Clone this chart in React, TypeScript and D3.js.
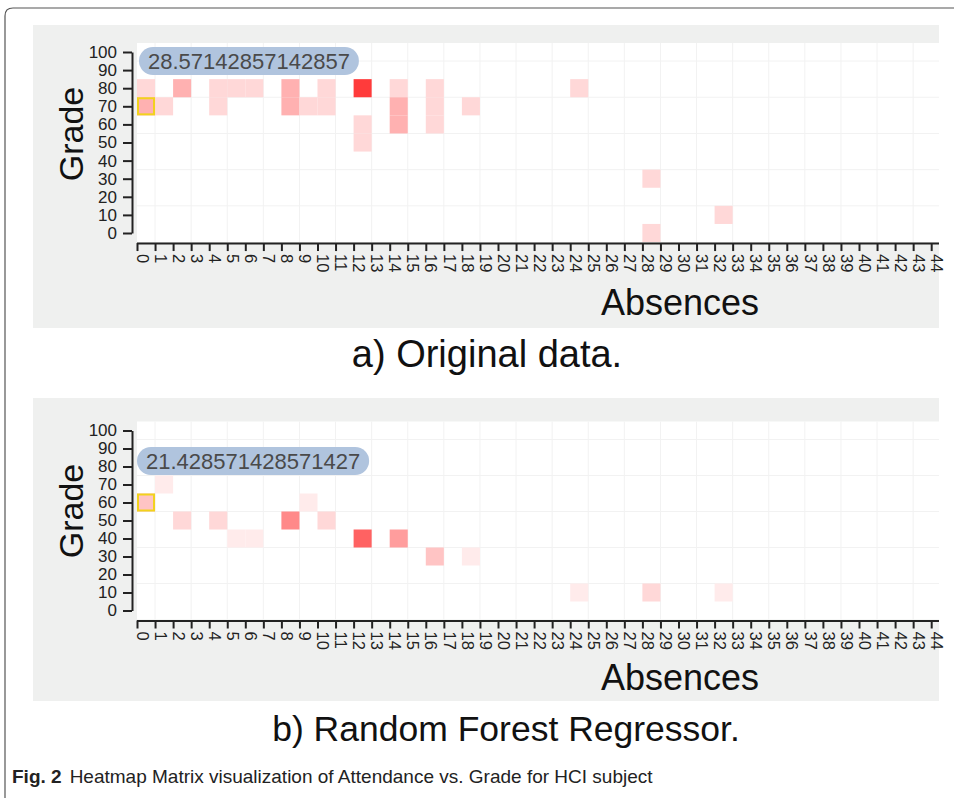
import React, { useEffect, useRef } from 'react';
import * as d3 from 'd3';

// x categories (absences) and y categories (grade)
const absenceTicks = [0, 1, 2, 3, 4, 5, 6, 7, 8, 9, 10, 11, 12, 13, 14, 15, 16, 17, 18, 19, 20, 21, 22,
    23, 24, 25, 26, 27, 28, 29, 30, 31, 32, 33, 34, 35, 36, 37, 38, 39, 40, 41, 42, 43, 44];
const gradeTicks = [0, 10, 20, 30, 40, 50, 60, 70, 80, 90, 100];

// a) original data: one entry per coloured cell
const originalAbsence = [0, 0, 1, 2, 4, 4, 5, 6, 8, 8, 9, 10, 10, 12, 12, 12, 14, 14, 14, 16, 16, 16, 18, 24, 28, 28, 32];
const originalGrade = [80, 70, 70, 80, 80, 70, 80, 80, 80, 70, 70, 80, 70, 80, 60, 50, 80, 70, 60, 80, 70, 60, 70, 80, 30, 0, 10];
const originalCount = [1, 2, 1, 2, 1, 1, 1, 1, 2, 2, 1, 1, 1, 5, 1, 1, 1, 2, 2, 1, 1, 1, 1, 1, 1, 1, 1];
const originalHover = { absence: 0, grade: 70, text: '28.57142857142857' };

// b) random forest regressor
const predictedAbsence = [1, 0, 9, 2, 4, 8, 10, 5, 6, 12, 14, 16, 18, 24, 28, 32];
const predictedGrade = [70, 60, 60, 50, 50, 50, 50, 40, 40, 40, 40, 30, 30, 10, 10, 10];
const predictedCount = [1, 3, 1, 2, 2, 6, 2, 1, 1, 8, 5, 3, 1, 1, 2, 1];
const predictedHover = { absence: 0, grade: 60, text: '21.428571428571427' };

const panels = [
    {
        absence: originalAbsence, grade: originalGrade, count: originalCount, hover: originalHover,
        colorMax: 6.5, title: 'a) Original data.', titleSize: 38,
        grayTop: 25, yTop: 52, yBottom: 233, gradeY: 134, absY: 315, titleX: 487, titleY: 367,
        tip: { x: 139, y: 47, h: 28 }
    },
    {
        absence: predictedAbsence, grade: predictedGrade, count: predictedCount, hover: predictedHover,
        colorMax: 13, title: 'b) Random Forest Regressor.', titleSize: 35.5,
        grayTop: 398, yTop: 430.5, yBottom: 610.5, gradeY: 511, absY: 690, titleX: 506, titleY: 741,
        tip: { x: 137, y: 447, h: 28 }
    }
];

const W = 954;
const H = 798;
const CLIP_X = 939;
const FONT = '"Liberation Sans", Arial, sans-serif';

const App = () => {
    const svgRef = useRef<SVGSVGElement>(null);

    useEffect(() => {
        const svg = d3.select(svgRef.current);
        svg.selectAll('*').remove();

        // figure frame
        svg.append('path')
            .attr('d', `M5,${H} V16 Q5,8 13,8 H${W}`)
            .attr('fill', 'none')
            .attr('stroke', '#555')
            .attr('stroke-width', 1.2);

        const defs = svg.append('defs');
        defs.append('clipPath').attr('id', 'clip')
            .append('rect').attr('x', 0).attr('y', 0).attr('width', CLIP_X).attr('height', H);

        const step = 18.05;
        const x = d3.scaleLinear()
            .domain([0, absenceTicks.length])
            .range([137, 137 + absenceTicks.length * step]);

        panels.forEach((p, pi) => {
            // grey panel background
            svg.append('rect')
                .attr('x', 33).attr('y', p.grayTop)
                .attr('width', CLIP_X - 33).attr('height', 303)
                .attr('fill', '#eff0ef');

            const g = svg.append('g').attr('clip-path', 'url(#clip)');

            const y = d3.scaleLinear().domain([0, 100]).range([p.yBottom, p.yTop]);
            const ch = (p.yBottom - p.yTop) / 10;

            const color = d3.scaleLinear<string>()
                .domain([0, p.colorMax])
                .range(['#ffffff', '#ff0000']);

            // white plot background
            g.append('rect')
                .attr('x', x(0))
                .attr('y', y(100) - ch / 2)
                .attr('width', x(absenceTicks.length) - x(0))
                .attr('height', ch * 11)
                .attr('fill', '#ffffff');

            // faint grid
            g.selectAll('.vgrid')
                .data(absenceTicks.filter(d => d % 2 === 1))
                .enter()
                .append('line')
                .attr('x1', d => x(d)).attr('x2', d => x(d))
                .attr('y1', y(100) - ch / 2).attr('y2', y(0) + ch / 2)
                .style('stroke', '#f2f2f2');
            g.selectAll('.hgrid')
                .data(gradeTicks.filter(d => d % 20 === 0 && d > 0))
                .enter()
                .append('line')
                .attr('x1', x(0)).attr('x2', x(absenceTicks.length))
                .attr('y1', d => y(d) + ch / 2).attr('y2', d => y(d) + ch / 2)
                .style('stroke', '#f2f2f2');

            // cells
            const cells = p.absence.map((a, i) => ({ a, gr: p.grade[i], c: p.count[i] }));
            g.selectAll('.cell')
                .data(cells)
                .enter()
                .append('rect')
                .attr('x', d => x(d.a))
                .attr('y', d => y(d.gr) - ch / 2)
                .attr('width', step)
                .attr('height', ch)
                .style('fill', d => color(d.c));

            // hovered cell outline
            g.append('rect')
                .attr('x', x(p.hover.absence) + 1)
                .attr('y', y(p.hover.grade) - ch / 2 + 1)
                .attr('width', step - 2)
                .attr('height', ch - 2)
                .attr('fill', 'none')
                .attr('stroke', '#f2d21c')
                .attr('stroke-width', 2);

            // y axis
            const yAxis = svg.append('g')
                .attr('transform', 'translate(132,0)')
                .call(d3.axisLeft(y).tickValues(gradeTicks).tickSize(9).tickPadding(6).tickSizeOuter(0));
            yAxis.selectAll('text')
                .style('font-family', FONT)
                .style('font-size', '17px')
                .style('fill', '#222');
            yAxis.selectAll('line, path').style('stroke', '#222').style('stroke-width', 2);

            // x axis (domain line drawn by hand so it stops at the panel edge)
            const xAxisY = p.yBottom + ch / 2 + 1;
            const xAxis = svg.append('g')
                .attr('transform', `translate(0,${xAxisY})`)
                .call(d3.axisBottom(x).tickValues(absenceTicks).tickFormat(d3.format('d')).tickSize(8).tickSizeOuter(0));
            xAxis.select('.domain').remove();
            xAxis.append('line')
                .attr('x1', x(0)).attr('x2', CLIP_X)
                .attr('y1', 0.5).attr('y2', 0.5);
            xAxis.selectAll('text')
                .attr('transform', 'rotate(90)')
                .attr('x', 11)
                .attr('y', 0)
                .attr('dy', '0.05em')
                .style('text-anchor', 'start')
                .style('font-family', FONT)
                .style('font-size', '16.5px')
                .style('fill', '#222');
            xAxis.selectAll('line').style('stroke', '#222').style('stroke-width', 2);

            // axis titles
            svg.append('text')
                .attr('transform', `translate(83,${p.gradeY}) rotate(-90)`)
                .attr('text-anchor', 'middle')
                .style('font-family', FONT)
                .style('font-size', '34px')
                .style('fill', '#111')
                .text('Grade');
            svg.append('text')
                .attr('x', 680).attr('y', p.absY)
                .attr('text-anchor', 'middle')
                .style('font-family', FONT)
                .style('font-size', '36px')
                .style('fill', '#111')
                .text('Absences');

            // panel title
            svg.append('text')
                .attr('x', p.titleX).attr('y', p.titleY)
                .attr('text-anchor', 'middle')
                .style('font-family', FONT)
                .style('font-size', p.titleSize + 'px')
                .style('fill', '#111')
                .text(p.title);

            // tooltip pill
            const tip = svg.append('g').attr('class', 'tip' + pi);
            const pill = tip.append('rect')
                .attr('x', p.tip.x).attr('y', p.tip.y)
                .attr('height', p.tip.h)
                .attr('rx', p.tip.h / 2)
                .attr('fill', '#b0c4de');
            const tt = tip.append('text')
                .attr('x', p.tip.x + 9)
                .attr('y', p.tip.y + p.tip.h / 2)
                .attr('dy', '0.36em')
                .style('font-family', FONT)
                .style('font-size', '22px')
                .style('fill', '#4a4a4a')
                .text(p.hover.text);
            const tw = (tt.node() as SVGTextElement).getComputedTextLength();
            pill.attr('width', tw + 18);
        });

        // figure caption
        const cap = svg.append('text')
            .attr('x', 12).attr('y', 783)
            .style('font-family', '"Liberation Sans Narrow", "Liberation Sans", sans-serif')
            .style('font-size', '19px')
            .style('fill', '#222');
        cap.append('tspan').style('font-weight', 'bold').text('Fig. 2');
        cap.append('tspan').attr('dx', 8)
            .text('Heatmap Matrix visualization of Attendance vs. Grade for HCI subject');
    }, []);

    return (
        <div style={{ position: 'absolute', left: 0, top: 0, width: W, height: H, background: '#fff' }}>
            <svg ref={svgRef} width={W} height={H} style={{ display: 'block' }}></svg>
        </div>
    );
};

export default App;
